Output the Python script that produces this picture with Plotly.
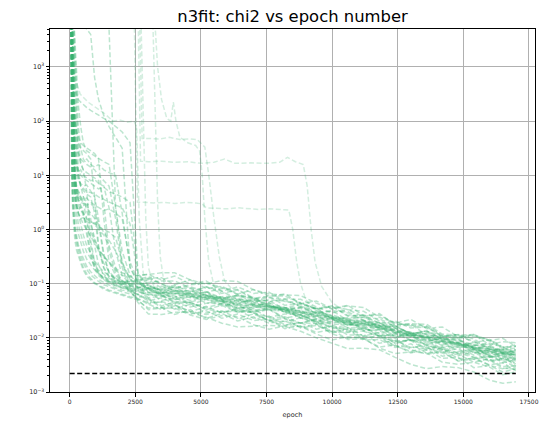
import plotly.graph_objects as go

# Shared epoch grid for the bulk of the replicas
EPOCHS = [40, 80, 120, 160, 200, 260, 330, 420, 520, 650, 800, 950, 1100, 1300, 1500,
          1750, 2000, 2300, 2600, 3000, 3500, 4000, 4600, 5200, 5800, 6400, 7000, 7600,
          8200, 8800, 9400, 10000, 10600, 11200, 11800, 12400, 13000, 13600, 14200,
          14800, 15400, 16000, 16500, 17000]

# log10(chi2) per replica, sampled on EPOCHS
# replicas that converge straight away
FAST_RUNS = [
    [4.2, 1.0, 0.45, 0.15, -0.05, -0.25, -0.42, -0.56, -0.7, -0.82, -0.9, -0.98, -1.03, -1.08, -1.12, -1.16, -1.2, -1.24, -1.28,
     -1.35, -1.34, -1.47, -1.38, -1.54, -1.50, -1.64, -1.56, -1.68, -1.64, -1.82, -1.77, -1.91, -1.85, -2.04, -2.03, -2.18, -2.11, -2.28, -2.25, -2.43, -2.39, -2.50, -2.46, -2.61],
    [4.2, 1.4, 0.7, 0.35, 0.1, -0.1, -0.28, -0.42, -0.55, -0.68, -0.78, -0.85, -0.92, -0.98, -1.03, -1.08, -1.12, -1.15, -1.2,
     -1.16, -1.31, -1.26, -1.39, -1.29, -1.41, -1.35, -1.51, -1.47, -1.63, -1.59, -1.71, -1.65, -1.82, -1.81, -1.97, -1.92, -2.05, -2.03, -2.21, -2.17, -2.32, -2.26, -2.40, -2.39],
    [4.2, 0.9, 0.3, 0.0, -0.2, -0.38, -0.5, -0.62, -0.75, -0.86, -0.93, -1.0, -1.04, -1.1, -1.14, -1.18, -1.22, -1.26, -1.3,
     -1.48, -1.45, -1.45, -1.58, -1.66, -1.59, -1.61, -1.76, -1.84, -1.78, -1.79, -1.93, -2.04, -1.98, -2.01, -2.19, -2.29, -2.26, -2.28, -2.45, -2.49, -2.45, -2.54, -2.68, -2.63],
    [4.2, 1.7, 0.95, 0.6, 0.35, 0.12, -0.08, -0.25, -0.4, -0.55, -0.66, -0.75, -0.82, -0.88, -0.93, -0.98, -1.02, -1.06, -1.1,
     -1.16, -1.17, -1.13, -1.13, -1.22, -1.33, -1.45, -1.44, -1.42, -1.49, -1.58, -1.70, -1.80, -1.85, -1.84, -1.87, -2.01, -2.22, -2.30, -2.26, -2.28, -2.36, -2.51, -2.57, -2.54],
    [4.2, 3.8, 2.2, 1.2, 0.7, 0.35, 0.1, -0.08, -0.25, -0.42, -0.55, -0.66, -0.75, -0.83, -0.9, -0.96, -1.0, -1.04, -1.08,
     -1.03, -1.13, -1.06, -1.21, -1.15, -1.29, -1.21, -1.33, -1.31, -1.48, -1.43, -1.55, -1.50, -1.68, -1.67, -1.82, -1.78, -1.93, -1.87, -2.03, -2.01, -2.20, -2.16, -2.28, -2.22],
    [4.2, 1.2, 0.55, 0.25, 0.02, -0.18, -0.34, -0.48, -0.62, -0.74, -0.84, -0.9, -0.96, -1.02, -1.06, -1.11, -1.15, -1.19, -1.24,
     -1.27, -1.41, -1.34, -1.34, -1.47, -1.53, -1.46, -1.54, -1.68, -1.70, -1.63, -1.71, -1.89, -1.90, -1.87, -1.97, -2.15, -2.18, -2.13, -2.21, -2.38, -2.39, -2.35, -2.42, -2.54],
    [4.2, 4.0, 2.8, 1.6, 1.0, 0.55, 0.3, 0.1, -0.1, -0.3, -0.45, -0.58, -0.68, -0.78, -0.85, -0.9, -0.94, -0.97, -0.95,
     -0.91, -1.00, -1.14, -1.14, -1.06, -1.14, -1.29, -1.31, -1.26, -1.29, -1.43, -1.54, -1.50, -1.52, -1.68, -1.77, -1.75, -1.75, -1.95, -1.98, -1.94, -2.02, -2.21, -2.21, -2.19],
]

# replicas that hover at chi2 ~ 1-30 for a while before dropping
PLATEAU_RUNS = [
    [4.2, 3.9, 2.2, 1.2, 0.7, 0.45, 0.35, 0.42, 0.3, -0.1, -0.5, -0.72, -0.85, -0.93, -0.99, -1.04, -1.08, -1.12, -1.15,
     -1.20, -1.22, -1.35, -1.43, -1.36, -1.37, -1.52, -1.53, -1.48, -1.65, -1.73, -1.66, -1.76, -1.89, -1.82, -1.92, -2.10, -2.04, -2.13, -2.25, -2.20, -2.36, -2.35, -2.34, -2.52],
    [4.2, 3.8, 2.6, 1.6, 1.0, 0.75, 0.62, 0.55, 0.6, 0.5, 0.2, -0.3, -0.65, -0.85, -0.95, -1.02, -1.07, -1.1, -1.14,
     -1.21, -1.22, -1.18, -1.18, -1.27, -1.38, -1.45, -1.44, -1.42, -1.44, -1.53, -1.65, -1.75, -1.75, -1.74, -1.77, -1.91, -2.04, -2.12, -2.08, -2.10, -2.18, -2.33, -2.39, -2.36],
    [4.2, 4.0, 3.0, 2.0, 1.4, 1.05, 0.9, 0.85, 0.8, 0.82, 0.7, 0.6, 0.2, -0.45, -0.8, -0.92, -0.98, -1.0, -1.02,
     -0.98, -0.95, -0.95, -1.08, -1.16, -1.09, -1.11, -1.26, -1.34, -1.28, -1.29, -1.43, -1.54, -1.48, -1.51, -1.69, -1.79, -1.76, -1.78, -1.95, -1.99, -1.95, -2.04, -2.18, -2.13],
    [4.2, 3.3, 2.2, 1.6, 1.3, 1.15, 1.05, 1.1, 1.0, 0.95, 0.9, 0.92, 0.85, 0.8, 0.4, -0.4, -0.85, -1.0, -1.06,
     -1.08, -1.19, -1.26, -1.16, -1.17, -1.31, -1.38, -1.28, -1.39, -1.53, -1.55, -1.50, -1.60, -1.76, -1.76, -1.73, -1.82, -1.98, -2.06, -2.01, -2.03, -2.20, -2.29, -2.22, -2.22],
    [4.2, 3.9, 2.4, 1.4, 0.9, 0.6, 0.45, 0.35, 0.3, 0.2, 0.15, 0.1, 0.0, -0.1, -0.3, -0.7, -0.98, -1.15, -1.28,
     -1.38, -1.48, -1.41, -1.56, -1.50, -1.64, -1.56, -1.68, -1.66, -1.83, -1.78, -1.90, -1.85, -2.03, -2.02, -2.17, -2.13, -2.28, -2.22, -2.38, -2.36, -2.55, -2.51, -2.63, -2.57],
    [4.2, 3.6, 2.6, 2.0, 1.7, 1.5, 1.4, 1.3, 1.25, 1.3, 1.2, 1.15, 1.2, 1.1, 1.05, 1.0, 0.3, -0.7, -0.98,
     -1.02, -1.16, -1.09, -1.09, -1.22, -1.28, -1.21, -1.29, -1.43, -1.45, -1.38, -1.46, -1.64, -1.65, -1.62, -1.72, -1.90, -1.93, -1.88, -1.96, -2.13, -2.14, -2.10, -2.17, -2.29],
    [4.2, 4.1, 3.2, 2.0, 1.2, 0.8, 0.55, 0.45, 0.35, 0.0, -0.45, -0.7, -0.82, -0.9, -0.96, -1.01, -1.05, -1.09, -1.12,
     -1.11, -1.20, -1.34, -1.34, -1.26, -1.34, -1.49, -1.51, -1.46, -1.49, -1.63, -1.74, -1.70, -1.72, -1.88, -1.97, -1.95, -1.95, -2.15, -2.18, -2.14, -2.22, -2.41, -2.41, -2.39],
    [4.2, 2.2, 1.2, 0.85, 0.7, 0.6, 0.65, 0.55, 0.5, 0.45, 0.48, 0.4, 0.1, -0.5, -0.8, -0.93, -0.98, -0.97, -0.94,
     -0.90, -0.89, -1.02, -0.93, -1.09, -1.05, -1.19, -1.11, -1.23, -1.19, -1.37, -1.32, -1.46, -1.40, -1.59, -1.58, -1.73, -1.66, -1.83, -1.80, -1.98, -1.94, -2.05, -2.01, -2.16],
    [4.2, 4.1, 3.9, 3.0, 2.2, 1.7, 1.4, 1.2, 1.1, 0.7, -0.2, -0.6, -0.8, -0.92, -0.98, -1.04, -1.08, -1.13, -1.2,
     -1.29, -1.44, -1.39, -1.52, -1.42, -1.54, -1.48, -1.64, -1.60, -1.76, -1.72, -1.84, -1.78, -1.95, -1.94, -2.10, -2.05, -2.18, -2.16, -2.34, -2.30, -2.45, -2.39, -2.53, -2.52],
    [4.2, 2.6, 1.5, 1.05, 0.85, 0.75, 0.7, 0.6, 0.55, 0.58, 0.5, 0.45, 0.4, 0.35, 0.38, 0.3, 0.2, -0.6, -0.95,
     -1.09, -1.10, -1.06, -1.06, -1.15, -1.26, -1.33, -1.32, -1.30, -1.32, -1.41, -1.53, -1.63, -1.63, -1.62, -1.65, -1.79, -1.92, -2.00, -1.96, -1.98, -2.06, -2.21, -2.27, -2.24],
    [4.2, 4.0, 3.5, 2.5, 1.8, 1.3, 1.0, 0.8, 0.6, 0.35, 0.1, -0.15, -0.4, -0.62, -0.78, -0.9, -0.98, -1.04, -1.08,
     -1.08, -1.10, -1.23, -1.31, -1.24, -1.25, -1.40, -1.41, -1.36, -1.53, -1.61, -1.54, -1.64, -1.77, -1.70, -1.80, -1.98, -1.92, -2.01, -2.13, -2.08, -2.24, -2.23, -2.22, -2.40],
    [4.2, 3.8, 2.9, 2.3, 2.0, 1.8, 1.6, 1.5, 1.45, 1.4, 1.3, 0.6, -0.3, -0.7, -0.86, -0.95, -1.02, -1.12, -1.2,
     -1.32, -1.26, -1.37, -1.35, -1.48, -1.40, -1.53, -1.46, -1.64, -1.61, -1.73, -1.65, -1.83, -1.81, -1.97, -1.90, -2.06, -2.05, -2.23, -2.19, -2.33, -2.26, -2.44, -2.38, -2.48],
    [4.2, 3.8, 2.5, 1.6, 1.1, 0.75, 0.55, 0.4, 0.25, 0.1, -0.05, -0.2, -0.35, -0.5, -0.62, -0.75, -0.85, -0.88, -0.85,
     -0.83, -0.93, -0.86, -1.01, -0.95, -1.14, -1.06, -1.18, -1.16, -1.33, -1.35, -1.47, -1.42, -1.60, -1.59, -1.82, -1.78, -1.93, -1.87, -2.03, -2.09, -2.28, -2.24, -2.36, -2.30],
    [4.2, 3.2, 2.1, 1.6, 1.35, 1.2, 1.1, 1.0, 0.95, 0.9, 0.85, 0.8, 0.75, 0.78, 0.7, 0.65, 0.6, 0.5, -0.8,
     -1.17, -1.16, -1.29, -1.20, -1.36, -1.32, -1.46, -1.38, -1.50, -1.46, -1.64, -1.59, -1.73, -1.67, -1.86, -1.85, -2.00, -1.93, -2.10, -2.07, -2.25, -2.21, -2.32, -2.28, -2.43],
    [4.2, 4.1, 3.8, 3.3, 2.6, 1.8, 1.1, 0.8, 0.72, 0.65, 0.6, 0.3, -0.35, -0.72, -0.88, -0.97, -1.03, -1.08, -1.12,
     -1.09, -1.05, -1.12, -1.23, -1.29, -1.24, -1.23, -1.25, -1.41, -1.49, -1.44, -1.46, -1.65, -1.73, -1.69, -1.72, -1.87, -1.97, -1.90, -2.00, -2.14, -2.09, -2.13, -2.28, -2.30],
    [4.2, 2.1, 1.15, 0.8, 0.6, 0.45, 0.3, 0.2, 0.22, 0.15, 0.1, 0.12, 0.05, 0.0, -0.05, -0.15, -0.6, -1.05, -1.32,
     -1.45, -1.44, -1.57, -1.48, -1.64, -1.55, -1.69, -1.61, -1.73, -1.69, -1.80, -1.75, -1.89, -1.83, -2.02, -1.95, -2.10, -2.03, -2.20, -2.17, -2.29, -2.25, -2.36, -2.32, -2.47],
    [4.2, 4.2, 4.0, 3.6, 3.0, 2.2, 1.6, 1.25, 1.1, 1.05, 1.0, 0.95, 0.9, 0.5, -0.4, -0.8, -0.95, -1.0, -0.98,
     -0.93, -1.08, -1.03, -1.16, -1.06, -1.18, -1.12, -1.28, -1.24, -1.40, -1.36, -1.48, -1.42, -1.59, -1.58, -1.74, -1.69, -1.82, -1.80, -1.98, -1.94, -2.09, -2.03, -2.17, -2.16],
    [4.2, 2.7, 1.6, 1.15, 0.95, 0.8, 0.7, 0.6, 0.5, 0.4, 0.3, 0.2, 0.1, -0.05, -0.2, -0.4, -0.65, -0.9, -1.08,
     -1.26, -1.23, -1.23, -1.36, -1.44, -1.37, -1.39, -1.54, -1.62, -1.56, -1.57, -1.71, -1.82, -1.76, -1.79, -1.97, -2.07, -2.04, -2.06, -2.23, -2.27, -2.23, -2.32, -2.46, -2.41],
    [4.2, 4.2, 4.1, 3.9, 3.5, 2.9, 2.3, 1.9, 1.6, 1.45, 1.4, 1.35, 1.3, 1.25, 1.2, 0.4, -0.6, -0.92, -1.02,
     -1.09, -1.23, -1.30, -1.24, -1.21, -1.29, -1.42, -1.49, -1.45, -1.45, -1.58, -1.68, -1.63, -1.70, -1.83, -1.77, -1.98, -1.96, -1.97, -2.15, -2.17, -2.16, -2.35, -2.29, -2.31],
    [4.2, 2.4, 1.4, 1.0, 0.8, 0.65, 0.55, 0.5, 0.48, 0.2, -0.3, -0.62, -0.8, -0.9, -0.96, -0.98, -0.97, -0.95, -0.92,
     -0.87, -1.01, -1.08, -1.02, -0.99, -1.07, -1.20, -1.27, -1.23, -1.23, -1.36, -1.46, -1.41, -1.48, -1.61, -1.55, -1.76, -1.74, -1.75, -1.93, -1.95, -1.94, -2.13, -2.07, -2.09],
    [4.2, 4.1, 3.7, 2.8, 2.0, 1.3, 0.95, 0.8, 0.75, 0.7, 0.68, 0.65, 0.6, 0.55, 0.5, 0.45, 0.4, 0.1, -0.9,
     -1.37, -1.33, -1.40, -1.51, -1.57, -1.52, -1.51, -1.53, -1.69, -1.77, -1.72, -1.74, -1.93, -2.01, -1.97, -2.00, -2.15, -2.25, -2.18, -2.28, -2.42, -2.37, -2.41, -2.56, -2.58],
    [4.2, 2.0, 1.1, 0.75, 0.55, 0.4, 0.3, 0.2, 0.1, 0.0, -0.12, -0.25, -0.38, -0.5, -0.6, -0.72, -0.8, -0.86, -0.85,
     -0.83, -0.80, -0.80, -0.93, -1.01, -0.94, -0.96, -1.11, -1.19, -1.21, -1.22, -1.36, -1.47, -1.41, -1.44, -1.62, -1.72, -1.78, -1.80, -1.97, -2.01, -1.97, -2.06, -2.20, -2.15],
    [4.2, 4.2, 4.0, 3.8, 3.3, 2.6, 1.9, 1.5, 1.3, 1.2, 1.15, 1.1, 1.0, 0.9, 0.8, 0.2, -0.7, -1.1, -1.35,
     -1.56, -1.57, -1.53, -1.53, -1.62, -1.73, -1.80, -1.79, -1.77, -1.79, -1.88, -2.00, -2.10, -2.20, -2.19, -2.22, -2.36, -2.49, -2.57, -2.53, -2.55, -2.63, -2.78, -2.84, -2.81],
]

# replicas that stay very high early on before collapsing into the bulk
LATE_RUNS = [
    [4.2, 4.0, 3.0, 2.4, 2.0, 1.8, 1.7, 1.6, 1.55, 1.5, 1.45, 1.4, 1.3, 0.2, -0.6, -0.85, -0.95, -1.02, -1.06,
     -1.12, -1.2, -1.18, -1.26, -1.25, -1.33, -1.33, -1.41, -1.43, -1.52, -1.53, -1.62, -1.66, -1.75, -1.77, -1.85, -1.9, -1.98, -2.02, -2.1, -2.13, -2.21, -2.25, -2.32, -2.3],
    [4.2, 4.3, 4.3, 4.2, 4.1, 4.0, 3.9, 3.8, 3.75, 3.7, 3.6, 2.8, 2.4, 2.1, 1.9, 1.7, 1.5, -0.7, -0.98,
     -1.1, -1.18, -1.17, -1.24, -1.24, -1.32, -1.31, -1.4, -1.41, -1.5, -1.52, -1.6, -1.64, -1.72, -1.74, -1.83, -1.88, -1.96, -1.98, -2.07, -2.1, -2.18, -2.2, -2.28, -2.26],
    [4.2, 4.3, 4.3, 4.2, 4.2, 4.1, 4.0, 4.0, 3.95, 3.9, 3.85, 3.8, 3.78, 3.75, 3.7, 0.4, -0.4, -0.85, -1.0,
     -1.08, -1.17, -1.15, -1.22, -1.22, -1.3, -1.29, -1.38, -1.4, -1.48, -1.5, -1.58, -1.62, -1.7, -1.73, -1.82, -1.86, -1.94, -1.98, -2.06, -2.1, -2.18, -2.22, -2.29, -2.32],
    [4.2, 3.9, 3.2, 2.8, 2.6, 2.5, 2.4, 2.35, 2.3, 2.25, 2.2, 2.15, 2.1, 2.05, 2.0, 1.9, 1.8, 1.6, -0.8,
     -1.05, -1.12, -1.13, -1.18, -1.2, -1.26, -1.27, -1.34, -1.36, -1.44, -1.46, -1.54, -1.58, -1.66, -1.7, -1.78, -1.82, -1.9, -1.93, -2.02, -2.05, -2.13, -2.17, -2.24, -2.27],
]

# Replicas stuck on long plateaus, each with its own epochs
PLATEAU_A_EPOCHS = [40, 100, 200, 400, 700, 1000, 1300, 1650, 1900, 2200, 2450, 2550, 2650, 2800, 3000, 3500, 4000, 4600,
                    5200, 5800, 6400, 7000, 7600, 8200, 8800, 9400, 10000, 10600, 11200, 11800, 12400, 13000, 13600,
                    14200, 14800, 15400, 16000, 16500, 17000]
PLATEAU_A_LOG = [4.2, 3.4, 2.8, 2.5, 2.35, 2.25, 2.15, 2.0, 2.02, 1.98, 2.0, 1.9, 0.2, -0.8, -1.05, -1.12, -1.16, -1.22,
                 -1.26, -1.3, -1.36, -1.38, -1.45, -1.48, -1.55, -1.58, -1.66, -1.7, -1.77, -1.8, -1.88, -1.92, -2.0,
                 -2.05, -2.12, -2.15, -2.24, -2.27, -2.3]

PLATEAU_B_EPOCHS = [40, 1000, 2650, 2760, 3000, 3400, 3800, 4200, 4600, 4860, 5150, 5300, 5500, 5700, 5900, 6400, 7000,
                    7600, 8200, 8800, 9400, 10000, 10600, 11200, 11800, 12400, 13000, 13600, 14200, 14800, 15400,
                    16000, 16500, 17000]
PLATEAU_B_LOG = [4.2, 4.3, 4.2, 1.68, 1.68, 1.67, 1.7, 1.66, 1.67, 1.66, 1.52, 1.0, 0.2, -0.5, -0.95, -1.22, -1.38,
                 -1.4, -1.48, -1.5, -1.6, -1.62, -1.7, -1.72, -1.82, -1.85, -1.93, -1.96, -2.05, -2.08, -2.17,
                 -2.2, -2.26, -2.3]

PLATEAU_C_EPOCHS = [40, 1000, 2600, 2700, 3000, 3500, 4000, 4500, 5000, 5500, 5900, 6300, 6900, 7500, 8000, 8300, 8600,
                    8900, 9050, 9200, 9350, 9600, 10000, 10600, 11200, 11800, 12400, 13000, 13600, 14200, 14800,
                    15400, 16000, 16500, 17000]
PLATEAU_C_LOG = [4.2, 4.3, 4.2, 1.26, 1.25, 1.26, 1.24, 1.25, 1.22, 1.24, 1.3, 1.22, 1.23, 1.22, 1.24, 1.33, 1.25,
                 1.2, 0.8, 0.0, -0.6, -1.05, -1.35, -1.55, -1.68, -1.75, -1.85, -1.9, -2.0, -2.05, -2.13,
                 -2.18, -2.25, -2.3, -2.32]

PLATEAU_D_EPOCHS = [40, 1000, 2450, 2580, 2800, 3200, 3600, 4000, 4400, 4800, 5050, 5200, 5600, 6000, 6400, 6800, 7200,
                    7600, 8000, 8350, 8500, 8650, 8800, 9000, 9400, 10000, 10600, 11200, 11800, 12400, 13000, 13600,
                    14200, 14800, 15400, 16000, 16500, 17000]
PLATEAU_D_LOG = [4.2, 4.3, 4.2, 0.5, 0.5, 0.49, 0.5, 0.48, 0.5, 0.49, 0.47, 0.4, 0.39, 0.38, 0.4, 0.38, 0.37,
                 0.38, 0.37, 0.36, 0.0, -0.6, -1.0, -1.3, -1.5, -1.6, -1.68, -1.75, -1.82, -1.88, -1.95, -2.0,
                 -2.07, -2.12, -2.2, -2.25, -2.3, -2.35]

SPIKE_A_EPOCHS = [40, 1000, 3200, 3350, 3500, 3700, 3850, 3950, 4050, 4200, 4500, 4800, 4950, 5050, 5150, 5300, 5500,
                  5800, 6400, 7000, 7600, 8200, 8800, 9400, 10000, 10600, 11200, 11800, 12400, 13000, 13600, 14200,
                  14800, 15400, 16000, 16500, 17000]
SPIKE_A_LOG = [4.2, 4.3, 4.2, 3.0, 2.4, 2.05, 2.0, 2.35, 2.0, 1.7, 1.6, 1.55, 1.45, 1.0, 0.2, -0.6, -1.05,
               -1.25, -1.3, -1.35, -1.42, -1.45, -1.52, -1.56, -1.62, -1.66, -1.74, -1.78, -1.86, -1.9, -1.98, -2.02,
               -2.1, -2.14, -2.2, -2.25, -2.27]

DROP_A_EPOCHS = [40, 1000, 2700, 2800, 2900, 3000, 3200, 3500, 4000, 4600, 5200, 5800, 6400, 7000, 7600, 8200, 8800,
                 9400, 10000, 10600, 11200, 11800, 12400, 13000, 13600, 14200, 14800, 15400, 16000, 16500, 17000]
DROP_A_LOG = [4.2, 4.3, 4.2, 2.0, 0.2, -0.7, -1.05, -1.15, -1.2, -1.25, -1.3, -1.33, -1.38, -1.42, -1.48, -1.52, -1.58,
              -1.62, -1.68, -1.72, -1.8, -1.84, -1.92, -1.96, -2.04, -2.08, -2.16, -2.2, -2.28, -2.31, -2.38]

DROP_B_EPOCHS = [40, 1000, 3150, 3250, 3350, 3450, 3600, 4000, 4600, 5200, 5800, 6400, 7000, 7600, 8200, 8800, 9400,
                 10000, 10600, 11200, 11800, 12400, 13000, 13600, 14200, 14800, 15400, 16000, 16500, 17000]
DROP_B_LOG = [4.2, 4.3, 4.2, 2.2, 0.5, -0.5, -1.0, -1.12, -1.18, -1.22, -1.28, -1.3, -1.36, -1.4, -1.46, -1.5, -1.57,
              -1.6, -1.67, -1.7, -1.78, -1.82, -1.9, -1.93, -2.02, -2.05, -2.13, -2.17, -2.22, -2.24]

# Target chi2 level over the training window
TARGET_EPOCHS = [0, 17000]
TARGET_CHI2 = 0.0022

X_TICKS = [0, 2500, 5000, 7500, 10000, 12500, 15000, 17500]
X_TICK_TEXT = ["0", "2500", "5000", "7500", "10000", "12500", "15000", "17500"]
Y_TICKS = [1e-3, 1e-2, 1e-1, 1e0, 1e1, 1e2, 1e3]
Y_TICK_TEXT = ["10<sup>−3</sup>", "10<sup>−2</sup>", "10<sup>−1</sup>", "10<sup>0</sup>",
               "10<sup>1</sup>", "10<sup>2</sup>", "10<sup>3</sup>"]

GREEN_BULK = "rgba(60,179,113,0.34)"
GREEN_SINGLE = "rgba(60,179,113,0.22)"
DASH = "5px,2.5px"
TEXT = "#262626"

fig = go.Figure()


def add_run(epochs, log_chi2, color):
    assert len(epochs) == len(log_chi2)
    fig.add_trace(go.Scatter(
        x=epochs, y=[10 ** v for v in log_chi2], mode="lines",
        line=dict(color=color, width=1.5, dash=DASH),
        hoverinfo="skip", showlegend=False,
    ))


for group in (FAST_RUNS, PLATEAU_RUNS, LATE_RUNS):
    for run in group:
        add_run(EPOCHS, run, GREEN_BULK)

for ep, vals in [(PLATEAU_A_EPOCHS, PLATEAU_A_LOG), (PLATEAU_B_EPOCHS, PLATEAU_B_LOG),
                 (PLATEAU_C_EPOCHS, PLATEAU_C_LOG), (PLATEAU_D_EPOCHS, PLATEAU_D_LOG),
                 (SPIKE_A_EPOCHS, SPIKE_A_LOG), (DROP_A_EPOCHS, DROP_A_LOG),
                 (DROP_B_EPOCHS, DROP_B_LOG)]:
    add_run(ep, vals, GREEN_SINGLE)

fig.add_trace(go.Scatter(
    x=TARGET_EPOCHS, y=[TARGET_CHI2] * len(TARGET_EPOCHS), mode="lines",
    line=dict(color="black", width=1.5, dash=DASH),
    hoverinfo="skip", showlegend=False,
))

minor_vals = [m * 10.0 ** e for e in range(-3, 4) for m in range(2, 10)]

axis_common = dict(
    showline=True, linecolor="black", linewidth=1, mirror=True,
    ticks="outside", ticklen=3.5, tickwidth=0.8, tickcolor="black",
    showgrid=True, gridcolor="#b0b0b0", gridwidth=1, zeroline=False,
    ticklabeloverflow="allow",
)

fig.update_xaxes(
    range=[-750, 17730], tickmode="array", tickvals=X_TICKS, ticktext=X_TICK_TEXT,
    tickfont=dict(family="DejaVu Sans", size=6, color=TEXT),
    title=dict(text="epoch", font=dict(family="DejaVu Sans", size=6.5, color=TEXT), standoff=8),
    **axis_common,
)
fig.update_yaxes(
    type="log", range=[-3, 3.70], tickmode="array", tickvals=Y_TICKS, ticktext=Y_TICK_TEXT,
    tickfont=dict(family="DejaVu Sans", size=6.5, color=TEXT),
    minor=dict(tickmode="array", tickvals=minor_vals, ticks="outside", ticklen=2,
               tickwidth=0.6, tickcolor="black", showgrid=False),
    **axis_common,
)

fig.update_layout(
    width=539, height=421,
    margin=dict(l=50, r=4, t=29, b=29, autoexpand=False),
    paper_bgcolor="white", plot_bgcolor="white",
    title=dict(text="n3fit: chi2 vs epoch number", x=0.5, xref="paper", xanchor="center",
               y=1 - 16 / 421, yref="container", yanchor="middle",
               font=dict(family="DejaVu Sans", size=16.4, color="black")),
    showlegend=False,
)

fig.write_html("out.html")
